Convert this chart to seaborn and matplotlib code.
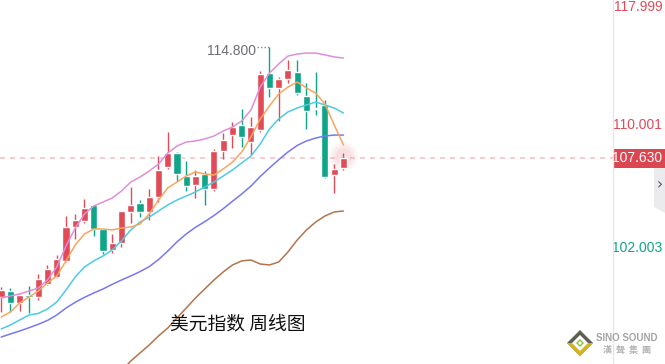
import numpy as np
import pandas as pd
import matplotlib.pyplot as plt
import seaborn as sns
from matplotlib.patches import Polygon, Rectangle
from matplotlib.lines import Line2D
import matplotlib.transforms as mtransforms

sns.set_style("white")
plt.rcParams['font.family'] = ['Noto Sans CJK SC', 'DejaVu Sans']

# 周K线数据
opens = [98.66, 99.05, 98.28, 98.79, 98.66, 99.50, 99.95, 100.99, 103.18, 103.57,
         104.60, 103.05, 101.70, 102.15, 104.15, 104.73, 104.15, 105.11, 107.05, 107.95,
         106.47, 105.89, 106.60, 105.63, 108.08, 109.11, 109.76, 108.66, 109.44, 113.11,
         112.15, 112.73, 113.18, 111.63, 110.86, 111.05, 106.53, 106.99]
highs = [99.31, 99.24, 98.86, 99.37, 100.15, 100.73, 101.37, 103.89, 104.02, 104.99,
         104.62, 103.07, 102.73, 104.23, 105.76, 104.92, 105.63, 107.76, 109.31, 108.02,
         107.44, 106.86, 106.79, 108.21, 109.24, 109.95, 110.79, 110.28, 113.24, 114.80,
         112.86, 113.95, 113.95, 112.47, 113.18, 111.37, 107.24, 107.95]
lows = [97.70, 97.70, 97.76, 97.63, 98.47, 99.44, 99.89, 100.92, 102.40, 103.44,
        102.60, 101.44, 101.50, 101.89, 103.44, 103.82, 103.63, 104.79, 106.92, 106.15,
        105.50, 105.05, 104.60, 105.50, 107.57, 108.28, 108.34, 107.82, 109.31, 111.57,
        110.02, 112.47, 111.70, 109.50, 110.40, 106.34, 105.37, 106.86]
closes = [99.11, 98.28, 98.79, 98.66, 99.82, 100.47, 101.11, 103.18, 103.63, 104.40,
          103.05, 101.63, 102.15, 104.21, 104.60, 104.15, 105.11, 106.86, 107.95, 106.60,
          105.82, 106.47, 105.63, 108.08, 108.79, 109.63, 108.99, 109.63, 113.05, 112.15,
          112.73, 113.31, 111.82, 110.66, 110.79, 106.40, 106.92, 107.63]

# 均线
ma_pink = [98.60, 98.73, 98.86, 99.05, 99.24, 99.76, 100.60, 101.95, 103.11, 104.02,
           104.53, 104.79, 105.05, 105.50, 106.08, 106.40, 106.79, 107.24, 107.95, 108.40,
           108.66, 108.73, 108.86, 109.05, 109.37, 109.63, 110.02, 110.73, 112.21, 113.11,
           113.70, 114.21, 114.34, 114.40, 114.40, 114.28, 114.15, 114.08]
ma_orange = [97.37, 97.70, 98.28, 98.66, 99.05, 99.57, 100.02, 100.99, 102.02, 102.73,
             103.05, 103.05, 102.99, 103.11, 103.18, 103.37, 104.02, 104.92, 105.70, 106.08,
             106.47, 106.73, 106.60, 106.53, 106.92, 107.37, 108.02, 108.99, 110.15, 110.99,
             111.76, 112.21, 112.53, 112.15, 111.82, 111.11, 109.76, 108.47]
ma_cyan = [96.60, 96.86, 97.18, 97.50, 97.60, 97.89, 98.34, 99.11, 99.95, 100.60,
           100.99, 101.31, 101.70, 102.28, 102.99, 103.50, 103.82, 104.21, 104.60, 104.92,
           105.18, 105.44, 105.76, 106.08, 106.47, 106.86, 107.31, 107.76, 108.53, 109.50,
           110.15, 110.60, 110.86, 111.05, 111.24, 111.05, 110.86, 110.53]
ma_blue = [96.08, 96.28, 96.47, 96.68, 96.90, 97.15, 97.50, 97.95, 98.32, 98.64,
           98.92, 99.18, 99.48, 99.76, 100.02, 100.30, 100.62, 101.08, 101.62, 102.22,
           102.73, 103.16, 103.52, 103.92, 104.36, 104.84, 105.31, 105.82, 106.44, 106.99,
           107.52, 108.02, 108.44, 108.73, 108.92, 109.05, 109.11, 109.11]
ma_brown = [np.nan] * 13 + [93.89, 94.53, 95.05, 95.57, 96.15, 96.66, 97.31, 97.95, 98.60, 99.18,
                            99.76, 100.28, 100.73, 100.99, 101.05, 100.79, 100.73, 100.92, 101.57, 102.34,
                            102.99, 103.50, 103.89, 104.15, 104.21]

last_price = 107.63
peak_price = 114.80
axis_labels = ["117.999", "110.001", "102.003"]
title = "美元指数 周线图"

red = "#e04b57"
green = "#0fa588"
num_font = ["Liberation Sans", "DejaVu Sans"]

W, H = 665, 364


def px(x, y):
    return (x / W, 1 - y / H)


fig = plt.figure(figsize=(W / 100, H / 100), dpi=100)
ax = fig.add_axes([0, 0, 613 / W, 1])

week = np.arange(len(opens))
o = np.array(opens)
c = np.array(closes)
cols = np.where(c >= o, red, green)

# 蜡烛图
ax.vlines(week, lows, highs, colors=cols, lw=1.0, zorder=2)
ax.bar(week, np.maximum(np.abs(c - o), 0.07), bottom=np.minimum(o, c),
       width=0.76, color=cols, zorder=2)

# 均线
for ma, col in [(ma_brown, "#b3744e"), (ma_blue, "#7878ee"), (ma_cyan, "#4ccbe2"),
                (ma_orange, "#f8a65e"), (ma_pink, "#e08edb")]:
    sns.lineplot(x=week, y=ma, color=col, lw=1.1, ax=ax, zorder=3)

# 当前价虚线
ax.axhline(last_price, color="#f4c4c8", lw=1.2, ls=(0, (3, 3)), zorder=1)

# 最后一根K线光晕
for s, a in [(420, 0.10), (260, 0.12), (140, 0.14)]:
    ax.scatter([week[-1]], [last_price + 0.1], s=s, color="#f0a0a8", alpha=a,
               lw=0, zorder=1)

# 最高价标注
ax.text(27.5, 114.55, "114.800", ha="right", va="center", fontsize=10,
        color="#6e6e78", family=num_font)
ax.plot([27.7, 29.0], [peak_price, peak_price], color="#888888", lw=1,
        ls=(0, (1, 1.5)), zorder=2)

ax.text(0.388, 0.11, title, transform=ax.transAxes, ha="center", va="center",
        fontsize=13.5, color="#111111")

ax.set_xlim(-0.135, 66.14)
ax.set_ylim(94.34, 117.824)
ax.set_xticks([])
ax.set_yticks([])
ax.set_xlabel("")
ax.set_ylabel("")
for sp in ax.spines.values():
    sp.set_visible(False)

# 右侧价格轴
fig.add_artist(Line2D([613 / W, 613 / W], [0, 1], color="#e6e6e6", lw=1))
trans = mtransforms.blended_transform_factory(fig.transFigure, ax.transData)
fig.text(0.996, px(0, 7)[1], axis_labels[0], ha="right", va="center",
         fontsize=10, color=red, family=num_font)
ax.annotate(axis_labels[1], xy=(0.996, float(axis_labels[1])), xycoords=trans,
            xytext=(0, -3), textcoords="offset points", ha="right", va="center",
            fontsize=10, color=red, family=num_font, annotation_clip=False)
ax.annotate(axis_labels[2], xy=(0.996, float(axis_labels[2])), xycoords=trans,
            xytext=(0, -2), textcoords="offset points", ha="right", va="center",
            fontsize=10, color=green, family=num_font, annotation_clip=False)

# 当前价标签
fig.add_artist(Rectangle(px(613, 168), 52 / W, 19 / H, transform=fig.transFigure,
                         facecolor="#db4651", edgecolor="none"))
fig.text(0.996, px(0, 158)[1], "%.3f" % last_price, ha="right", va="center",
         fontsize=10, color="white", family=num_font)

# 右侧灰色小标签
tab = [px(654, 168), px(665, 168), px(665, 213), px(654, 207)]
fig.add_artist(Polygon(tab, closed=True, transform=fig.transFigure,
                       facecolor="#ebebee", edgecolor="none"))
fig.text(*px(659.5, 185), "›", ha="center", va="center", fontsize=11,
         color="#55555f", family=["DejaVu Sans"])

# 水印
logo_c = (580, 343)
def diamond(cx, cy, r):
    return [px(cx, cy - r), px(cx + r, cy), px(cx, cy + r), px(cx - r, cy)]
fig.add_artist(Polygon(diamond(*logo_c, 13), transform=fig.transFigure,
                       facecolor="#5e5e52", edgecolor="none"))
fig.add_artist(Polygon([px(567, 343), px(593, 343), px(580, 356)], transform=fig.transFigure,
                       facecolor="#d6b21e", edgecolor="none"))
fig.add_artist(Polygon(diamond(*logo_c, 8), transform=fig.transFigure,
                       facecolor="white", edgecolor="none"))
fig.add_artist(Polygon(diamond(*logo_c, 4), transform=fig.transFigure,
                       facecolor="#8cc43c", edgecolor="none"))
fig.add_artist(Polygon(diamond(*logo_c, 2), transform=fig.transFigure,
                       facecolor="white", edgecolor="none"))
fig.text(*px(627, 338), "SINO SOUND", ha="center", va="center", fontsize=7,
         fontweight="bold", color="#a4a4a4", family=num_font)
fig.text(*px(627, 350), "漢  聲  集  團", ha="center", va="center", fontsize=6.5,
         fontweight="bold", color="#b4b4b4")

fig.savefig("out.png", dpi=100)
